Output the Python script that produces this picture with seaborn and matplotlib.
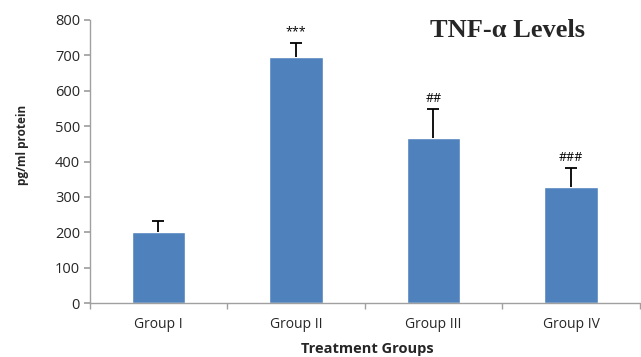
import matplotlib
matplotlib.use("Agg")
import matplotlib.pyplot as plt
import seaborn as sns
import pandas as pd
import numpy as np

groups = ["Group I", "Group II", "Group III", "Group IV"]
tnf_levels = [200, 695, 466, 328]
tnf_sem = [32, 40, 82, 53]
significance = ["", "***", "##", "###"]

sns.set_theme(style="white")
plt.rcParams["font.family"] = ["Open Sans", "DejaVu Sans"]

df = pd.DataFrame({"group": groups, "level": tnf_levels})

fig = plt.figure(figsize=(6.41, 3.57), dpi=100)
ax = fig.add_axes([0.140, 0.151, 0.858, 0.793])

sns.barplot(data=df, x="group", y="level", color="#4F81BD", saturation=1,
            width=0.39, errorbar=None, ax=ax)

# one-sided (upper) error bars with a cap only at the top
x = np.arange(len(groups))
tops = np.array(tnf_levels) + np.array(tnf_sem)
ax.vlines(x, tnf_levels, tops, color="black", linewidth=1.3, zorder=3)
ax.scatter(x, tops, marker="_", s=70, color="black", linewidths=1.3, zorder=3)

for xi, top, mark in zip(x, tops, significance):
    if mark:
        ax.text(xi, top + 12, mark, ha="center", va="bottom",
                fontsize=9, color="black")

ax.set_ylim(0, 800)
ax.set_xlim(-0.5, 3.5)
ax.set_yticks(range(0, 801, 100))
ax.tick_params(axis="y", labelsize=10.5, length=4, color="#A0A0A0", direction="out", left=True, pad=3)
ax.tick_params(axis="x", which="major", labelsize=10, length=0, pad=10)
ax.set_xticks(np.arange(-0.5, 4.0, 1.0), minor=True)
ax.tick_params(axis="x", which="minor", length=4, color="#A0A0A0", direction="out", bottom=True)

for side in ("top", "right"):
    ax.spines[side].set_visible(False)
for side in ("left", "bottom"):
    ax.spines[side].set_color("#A0A0A0")
    ax.spines[side].set_linewidth(1.0)

ax.set_xlabel("Treatment Groups", fontsize=10.5, fontweight="bold")
ax.xaxis.set_label_coords(0.505, -0.138)
ax.set_ylabel("pg/ml protein", fontsize=8.5, fontweight="bold")
ax.yaxis.set_label_coords(-0.11, 0.56)

fig.text(0.792, 0.915, "TNF-α Levels", ha="center", va="center",
         fontsize=19, fontweight="bold", family=["Liberation Serif", "DejaVu Serif"])

fig.savefig("out.png", dpi=100)
